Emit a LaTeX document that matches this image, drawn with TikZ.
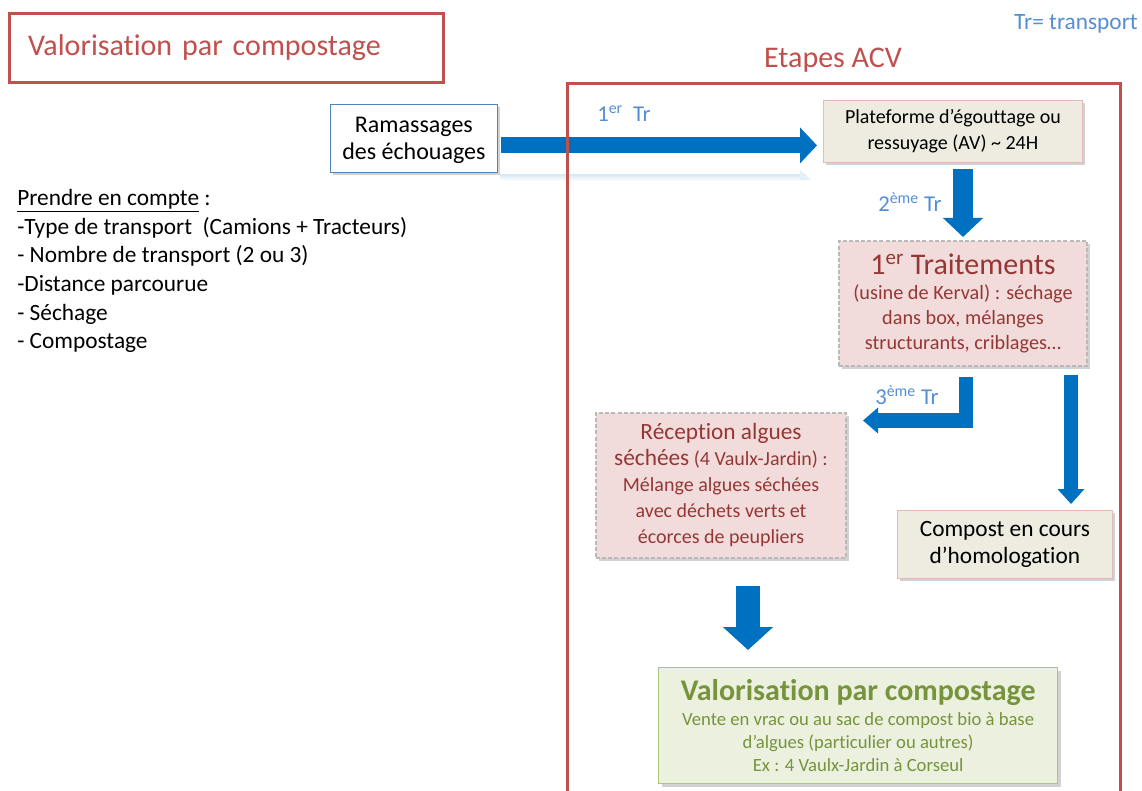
\documentclass[tikz,border=0pt]{standalone}
\usepackage{fontspec}
\setmainfont[Ligatures=NoCommon]{Carlito}
\usetikzlibrary{arrows.meta,shadows,calc}

\definecolor{framered}{HTML}{C0504D}
\definecolor{flowblue}{HTML}{0070C0}
\definecolor{noteblue}{HTML}{558ED5}
\definecolor{wine}{HTML}{953735}
\definecolor{pinkfill}{HTML}{F2DCDB}
\definecolor{pinkline}{HTML}{E6B9B8}
\definecolor{beige}{HTML}{EEECE1}
\definecolor{greenfill}{HTML}{EBF1DE}
\definecolor{greenline}{HTML}{A9C47F}
\definecolor{greentext}{HTML}{77933C}
\definecolor{boxblue}{HTML}{4F81BD}

\newcommand\fsz[2]{\fontsize{#1}{#2}\selectfont}

\tikzset{
  shade box/.style={drop shadow={shadow xshift=2.2pt, shadow yshift=-2.2pt, opacity=0.35}},
  stepbox/.style={anchor=north west, inner sep=2pt, align=center},
  beigebox/.style={stepbox, fill=beige, draw=pinkline, line width=0.6pt, shade box},
  stampbox/.style={stepbox, fill=pinkfill, draw=gray!55, line width=1.5pt,
                   dash pattern=on 3pt off 1.6pt, text=wine, shade box},
  trlabel/.style={anchor=base west, text=noteblue, inner sep=0pt, font=\fsz{17}{20}},
}

\begin{document}
\begin{tikzpicture}[x=0.75pt, y=-0.75pt]
  \useasboundingbox (0,0) rectangle (1142,791);
  \clip (0,0) rectangle (1142,791);
  \fill[white] (0,0) rectangle (1142,791);

  % heading frame
  \node (title) [anchor=north west, draw=framered, line width=2.2pt,
        minimum width=325.5pt, minimum height=51.75pt, text width=297.5pt,
        inner xsep=14pt, align=left, text=framered, font=\fsz{22.5}{26}]
        at (8,12) {Valorisation par compostage};

  \node (legend) [anchor=base east, text=noteblue, inner sep=0pt, font=\fsz{17.5}{20}]
        at (1138,30) {Tr= transport};

  \node (etapes) [anchor=base, text=framered, inner sep=0pt, font=\fsz{22.5}{26}]
        at (833,68) {Etapes ACV};

  % notes on the left
  \node (notes) [anchor=north west, align=left, inner sep=0pt, font=\fsz{17.5}{21.5}]
        at (17,189) {\underline{Prendre en compte} :\\
        -Type de transport~~(Camions + Tracteurs)\\
        - Nombre de transport (2 ou 3)\\
        -Distance parcourue\\
        - Séchage\\
        - Compostage};

  % process boxes
  \node (ram) [stepbox, fill=white, draw=boxblue, line width=0.6pt, shade box,
        minimum width=125.25pt, minimum height=51pt, font=\fsz{18}{20.25},
        text depth=0pt]
        at (330,104) {Ramassages\\des échouages};

  \node (plat) [beigebox, minimum width=194.25pt, minimum height=46.5pt, font=\fsz{15}{19.5}]
        at (823,100) {Plateforme d’égouttage ou\\ressuyage (AV) \textasciitilde\ 24H};

  \node (trait) [stampbox, minimum width=186pt, minimum height=93.75pt, font=\fsz{15.2}{18.75}]
        at (838,240) {{\fsz{22.5}{19.5}1\textsuperscript{er} Traitements}\\
        (usine de Kerval) : séchage\\dans box, mélanges\\structurants, criblages…};

  \node (recep) [stampbox, minimum width=187.5pt, minimum height=108.75pt, font=\fsz{15}{19.5}]
        at (595,412) {{\fsz{17.5}{19.5}Réception algues}\\
        {\fsz{17.5}{19.5}séchées} (4 Vaulx-Jardin) :\\
        Mélange algues séchées\\avec déchets verts et\\écorces de peupliers};

  \node (compost) [beigebox, minimum width=161.25pt, minimum height=51pt, font=\fsz{17.5}{20.25}]
        at (897,510) {Compost en cours\\d’homologation};

  \node (valo) [stepbox, fill=greenfill, draw=greenline, line width=1pt, shade box,
        text=greentext, minimum width=299.25pt, minimum height=87pt, font=\fsz{14}{17.25}]
        at (658,667) {{\fsz{22.5}{17.25}\bfseries Valorisation par compostage}\\[1pt]
        Vente en vrac ou au sac de compost bio à base\\
        d’algues (particulier ou autres)\\Ex : 4 Vaulx-Jardin à Corseul};

  % transport arrows
  \shade[top color=flowblue!14, bottom color=white] (500,175) rectangle (806,181);
  \fill[flowblue!10] (800,170) -- (811,180) -- (800,180) -- cycle;
  \draw[flowblue, line width=12pt, -{Triangle[length=12.75pt, width=26.25pt]}]
        ($(ram.east)+(3,7)$) -- ($(plat.west)+(-6,14)$);

  \draw[flowblue, line width=15pt, -{Triangle[length=14.25pt, width=29.25pt]}]
        ($(trait.north |- plat.south)+(0,6)$) -- ($(trait.north)+(0,-3)$);

  \draw[flowblue, line width=11pt, line join=miter, -{Triangle[length=11.25pt, width=18.75pt]}]
        ($(trait.south)+(3,10)$) |- ($(recep.north east)+(16,8.5)$);

  \draw[flowblue, line width=10.5pt, -{Triangle[length=11.25pt, width=19.5pt]}]
        ($(trait.south east)+(-17,8)$) -- ($(trait.south east |- compost.north)+(-17,-6)$);

  \draw[flowblue, line width=18pt, -{Triangle[length=17.25pt, width=36.75pt]}]
        ($(recep.south)+(27,27)$) -- ($(recep.south |- valo.north)+(27,-17)$);

  \node (tr1) [trlabel] at (597,122) {1\textsuperscript{er}~~Tr};
  \node (tr2) [trlabel] at (878,212) {2\textsuperscript{ème} Tr};
  \node (tr3) [trlabel] at (875,405) {3\textsuperscript{ème} Tr};

  % life-cycle frame
  \node (acv) [anchor=north west, draw=framered, line width=2.2pt,
        minimum width=414.75pt, minimum height=538.5pt, inner sep=0pt]
        at (566,82) {};
\end{tikzpicture}
\end{document}
